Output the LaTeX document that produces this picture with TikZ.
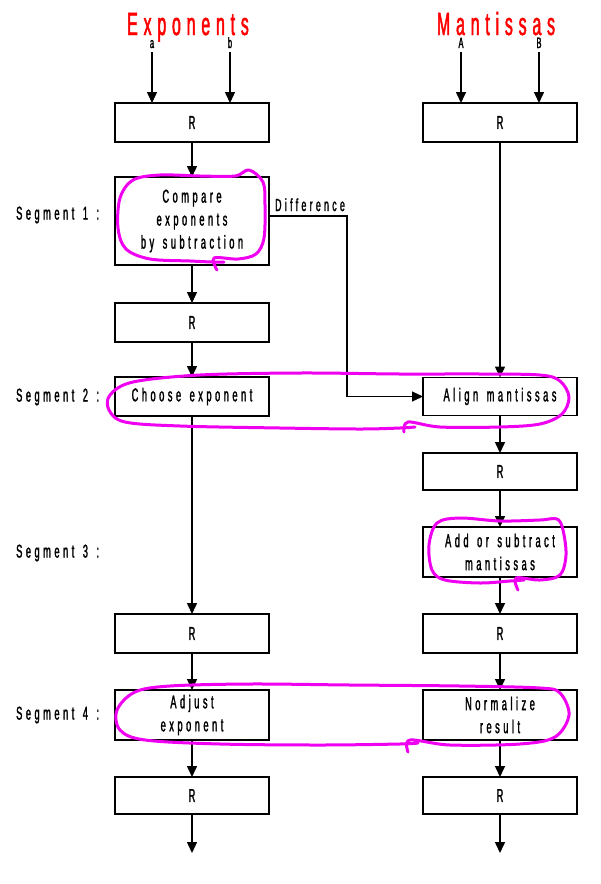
\documentclass[tikz,border=0pt]{standalone}
\usepackage{fontspec}
\usetikzlibrary{arrows.meta}
% narrow, widely tracked sans for all labels
\newfontfamily\lblfont[FakeStretch=0.5,LetterSpace=19,WordSpace=1.4,FakeBold=1.5]{Liberation Sans}
\newfontfamily\ttlfont[FakeStretch=0.5,LetterSpace=18,FakeBold=1.5]{Liberation Sans}
\definecolor{marker}{RGB}{240,0,240}

\begin{document}
\begin{tikzpicture}[x=1pt,y=-1pt,
  stage/.style={draw, line width=1.5pt, minimum width=154pt, inner sep=0pt, outer sep=0pt,
    align=center, font=\lblfont\fontsize{18.5}{23}\selectfont},
  seglabel/.style={anchor=west, inner sep=0pt, font=\lblfont\fontsize{18.5}{20}\selectfont},
  headline/.style={anchor=base, inner sep=0pt, text=red, font=\ttlfont\fontsize{32}{36}\selectfont},
  inlabel/.style={anchor=base, inner sep=0pt, font=\lblfont\fontsize{15}{16}\selectfont},
  flow/.style={line width=1.5pt, -{Triangle[length=11pt,width=10pt]}},
  hl/.style={draw=marker, line width=3pt, line cap=round, line join=round}]

\useasboundingbox (0,0) rectangle (601,884);

% column headings
\node[headline] (te) at (188,35) {Exponents};
\node[headline] (tm) at (496,35) {Mantissas};

% input labels
\node[inlabel] (la) at (152,48) {a};
\node[inlabel] (lb) at (230,48) {b};
\node[inlabel] (lA) at (461,48) {A};
\node[inlabel] (lB) at (539,48) {B};

% pipeline stages
\node[stage, minimum height=39pt] (rA)  at (192,122.5) {R};
\node[stage, minimum height=39pt] (rM)  at (500,122.5) {R};
\node[stage, minimum height=88pt] (cmp) at (192,221) {Compare\\exponents\\by subtraction};
\node[stage, minimum height=39pt] (rA2) at (192,322.5) {R};
\node[stage, minimum height=39pt] (chs) at (192,396.5) {Choose exponent};
\node[stage, minimum height=38pt] (aln) at (500,396.5) {Align mantissas};
\node[stage, minimum height=37pt] (rM2) at (500,471.5) {R};
\node[stage, minimum height=50pt] (add) at (500,552) {Add or subtract\\mantissas};
\node[stage, minimum height=39pt] (rA3) at (192,633.5) {R};
\node[stage, minimum height=39pt] (rM3) at (500,633.5) {R};
\node[stage, minimum height=50pt] (adj) at (192,715) {Adjust\\exponent};
\node[stage, minimum height=50pt] (nrm) at (500,715) {Normalize\\result};
\node[stage, minimum height=37pt] (rA4) at (192,795.5) {R};
\node[stage, minimum height=37pt] (rM4) at (500,795.5) {R};

% segment labels
\node[seglabel] (s1) at (16,215) {Segment 1 :};
\node[seglabel] (s2) at (16,397) {Segment 2 :};
\node[seglabel] (s3) at (16,553) {Segment 3 :};
\node[seglabel] (s4) at (16,715) {Segment 4 :};

% inputs
\draw[flow] ([yshift=-4pt]la.base) -- (la.base |- rA.north);
\draw[flow] ([yshift=-4pt]lb.base) -- (lb.base |- rA.north);
\draw[flow] ([yshift=-4pt]lA.base) -- (lA.base |- rM.north);
\draw[flow] ([yshift=-4pt]lB.base) -- (lB.base |- rM.north);

% exponent column
\coordinate (oA) at (192,853);
\draw[flow] (rA)  -- (cmp);
\draw[flow] (cmp) -- (rA2);
\draw[flow] (rA2) -- (chs);
\draw[flow] (chs) -- (rA3);
\draw[flow] (rA3) -- (adj);
\draw[flow] (adj) -- (rA4);
\draw[flow] (rA4) -- (oA);

% mantissa column
\coordinate (oM) at (500,853);
\draw[flow] (rM)  -- (aln);
\draw[flow] (aln) -- (rM2);
\draw[flow] (rM2) -- (add);
\draw[flow] (add) -- (rM3);
\draw[flow] (rM3) -- (nrm);
\draw[flow] (nrm) -- (rM4);
\draw[flow] (rM4) -- (oM);

% exponent difference feeds the alignment stage
\draw[flow, line width=1.2pt] ([yshift=5pt]cmp.east) -- ++(78,0) coordinate (dk) |- (aln.west);
\node[anchor=base west, inner sep=0pt, font=\lblfont\fontsize{17.5}{18}\selectfont] (dl)
  at ([xshift=6pt,yshift=10pt]cmp.east) {Difference};

% hand-drawn highlights
\draw[hl] plot[smooth, tension=0.55] coordinates {(217,270) (214,258) (238,259) (256,254) (264,238) (265,205) (263,182) (249,170) (235,176) (200,176) (160,175) (133,180) (120,198) (118,228) (126,249) (150,259) (190,261) (212,262) (224,262)};
\draw[hl] plot[smooth, tension=0.55] coordinates {(404,432) (408,422) (440,427) (500,427) (540,424) (562,414) (569,397) (560,381) (540,375) (480,374) (400,374) (300,373) (200,375) (133,382) (110,395) (109,410) (125,422) (180,426) (280,428) (360,429) (400,428) (415,427)};
\draw[hl] plot[smooth, tension=0.55] coordinates {(518,590) (516,578) (540,580) (560,575) (566,555) (563,530) (557,519) (540,520) (500,521) (460,518) (437,523) (429,545) (432,570) (445,580) (480,583) (510,581) (524,580)};
\draw[hl] plot[smooth, tension=0.55] coordinates {(408,752) (410,740) (450,745) (520,744) (555,737) (569,715) (560,693) (540,688) (460,686) (350,685) (250,684) (170,686) (135,692) (117,710) (120,730) (145,740) (220,744) (320,745) (400,744) (418,743)};
\end{tikzpicture}
\end{document}
